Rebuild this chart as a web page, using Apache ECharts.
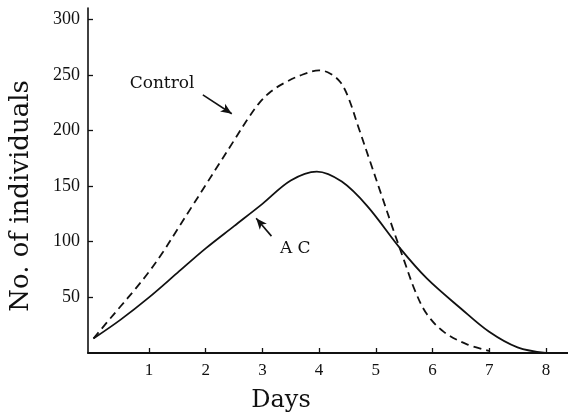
<!DOCTYPE html>
<html>
<head>
<meta charset="utf-8">
<script src="https://cdn.jsdelivr.net/npm/echarts@6/dist/echarts.min.js"></script>
<style>
  html, body { margin: 0; padding: 0; background: #fff; }
  #chart { width: 568px; height: 416px; }
</style>
</head>
<body>
<div id="chart"></div>
<script>
// Population counts per day: untreated control vs. AC-treated culture
const controlDays = [0.02, 0.25, 0.5, 0.75, 1.0, 1.25, 1.5, 1.75, 2.0, 2.25, 2.5, 2.75, 2.95, 3.15, 3.4, 3.7, 4.0, 4.2, 4.38, 4.52, 4.7, 4.9, 5.1, 5.3, 5.5, 5.7, 5.9, 6.2, 6.6, 7.0];
const controlCounts = [13, 27, 42, 57, 73, 91, 111, 131, 151, 171, 191, 211, 225, 235, 243, 250, 254, 251, 243, 229, 202, 172, 142, 112, 83, 55, 35, 19, 8, 2];

const acDays = [0.02, 0.5, 1.0, 1.5, 2.0, 2.5, 3.0, 3.5, 3.96, 4.4, 4.85, 5.43, 5.9, 6.5, 7.0, 7.5, 8.0];
const acCounts = [13, 30, 50, 72, 94, 114, 134, 155, 163, 154, 132, 94, 67, 40, 19, 5, 0];

const dayTicks = [1, 2, 3, 4, 5, 6, 7, 8];
const countTicks = [50, 100, 150, 200, 250, 300];

// Curve labels and their pointer arrows, in data coordinates [day, count]
const controlLabel = { text: 'Control', at: [1.23, 242] };
const controlArrow = [[1.95, 232], [2.46, 215]];
const acLabel = { text: 'A C', at: [3.58, 94] };
const acArrow = [[3.16, 105], [2.89, 121]];

const zip = (xs, ys) => xs.map((x, i) => [x, ys[i]]);

const serif = 'DejaVu Serif';
const numFont = 'Liberation Serif';

function labelPoint(lbl) {
  return {
    coord: lbl.at,
    symbol: 'circle',
    symbolSize: 0,
    label: {
      show: true,
      position: 'inside',
      formatter: lbl.text,
      color: '#111',
      fontFamily: serif,
      fontSize: 17
    }
  };
}

function arrowLine(seg) {
  return {
    silent: true,
    symbol: ['none', 'arrow'],
    symbolSize: [7, 11],
    label: { show: false },
    lineStyle: { type: 'solid', color: '#111', width: 1.6 },
    emphasis: { disabled: true },
    data: [[{ coord: seg[0] }, { coord: seg[1] }]]
  };
}

const chart = echarts.init(document.getElementById('chart'));
chart.setOption({
  animation: false,
  backgroundColor: '#fff',
  grid: { left: 88, right: 0, top: 8, bottom: 63, containLabel: false, outerBoundsMode: 'none' },
  xAxis: {
    type: 'value',
    min: -0.076,
    max: 8.39,
    name: 'Days',
    nameLocation: 'middle',
    nameGap: 36,
    nameTextStyle: {
      fontFamily: serif, fontSize: 24, color: '#111',
      padding: [0, 94, 0, 0]
    },
    axisLine: { onZero: false, lineStyle: { color: '#111', width: 2 } },
    axisTick: { show: true, inside: true, length: 5, customValues: dayTicks,
                lineStyle: { color: '#111', width: 1.3 } },
    axisLabel: { show: true, customValues: dayTicks, margin: 9,
                 fontFamily: numFont, fontSize: 17, color: '#111' },
    splitLine: { show: false }
  },
  yAxis: {
    type: 'value',
    min: 0,
    max: 310,
    name: 'No. of individuals',
    nameLocation: 'middle',
    nameGap: 54,
    nameTextStyle: {
      fontFamily: serif, fontSize: 26, color: '#111',
      padding: [0, 31, 0, 0]
    },
    axisLine: { show: true, onZero: false, lineStyle: { color: '#111', width: 1.6 } },
    axisTick: { show: true, inside: true, length: 5, customValues: countTicks,
                lineStyle: { color: '#111', width: 1.3 } },
    axisLabel: { show: true, customValues: countTicks, margin: 8,
                 fontFamily: numFont, fontSize: 18, color: '#111' },
    splitLine: { show: false }
  },
  series: [
    {
      name: 'Control',
      type: 'line',
      data: zip(controlDays, controlCounts),
      smooth: 0.35,
      showSymbol: false,
      lineStyle: { color: '#111', width: 1.8, type: [8, 5] },
      markPoint: { silent: true, data: [labelPoint(controlLabel)] },
      markLine: arrowLine(controlArrow)
    },
    {
      name: 'AC',
      type: 'line',
      data: zip(acDays, acCounts),
      smooth: 0.35,
      showSymbol: false,
      lineStyle: { color: '#111', width: 1.8, type: 'solid' },
      markPoint: { silent: true, data: [labelPoint(acLabel)] },
      markLine: arrowLine(acArrow)
    }
  ]
});
</script>
</body>
</html>
